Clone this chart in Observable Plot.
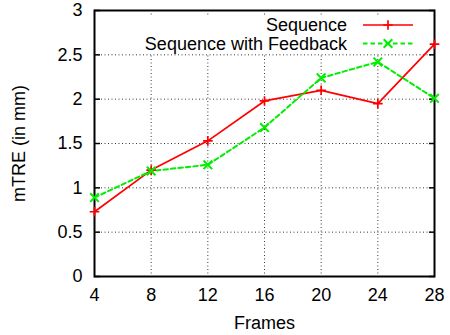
<!DOCTYPE html>
<html>
<head>
<meta charset="utf-8">
<script src="https://cdn.jsdelivr.net/npm/d3@7"></script>
<script src="https://cdn.jsdelivr.net/npm/@observablehq/plot@0.6"></script>
<style>
  body { margin: 0; background: #fff; }
  #chart { width: 450px; height: 335px; }
</style>
</head>
<body>
<div id="chart"></div>
<script>
// mTRE per number of frames, for the two registration variants
const frames = [4, 8, 12, 16, 20, 24, 28];
const sequence = [0.73, 1.2, 1.53, 1.98, 2.1, 1.95, 2.62];
const sequenceFeedback = [0.89, 1.19, 1.26, 1.68, 2.24, 2.42, 2.01];
const seriesNames = ["Sequence", "Sequence with Feedback"];
const xTicks = [4, 8, 12, 16, 20, 24, 28];
const yTicks = [0, 0.5, 1, 1.5, 2, 2.5, 3];

const RED = "#ff0000";
const GREEN = "#00ee00";
const FONT = "'Liberation Sans', Arial, Helvetica, sans-serif";
const FONT_SIZE = "18px";

const seqRows = frames.map((f, i) => ({frame: f, value: sequence[i], series: seriesNames[0]}));
const fbRows = frames.map((f, i) => ({frame: f, value: sequenceFeedback[i], series: seriesNames[1]}));

const gridStyle = {stroke: "#222", strokeOpacity: 0.9, strokeDasharray: "1,2.5", strokeWidth: 1};

const svg = Plot.plot({
  width: 450,
  height: 335,
  marginLeft: 94,
  marginRight: 16,
  marginTop: 10,
  marginBottom: 59,
  style: {fontFamily: FONT, fontSize: FONT_SIZE, color: "#000", background: "#fff", overflow: "visible"},
  x: {domain: [4, 28], ticks: xTicks},
  y: {domain: [0, 3], ticks: yTicks},
  marks: [
    Plot.gridX(xTicks, gridStyle),
    Plot.gridY(yTicks, gridStyle),
    Plot.axisY(yTicks, {anchor: "left", tickSize: 0, tickPadding: 12, tickFormat: d => String(d),
      label: "mTRE (in mm)", labelAnchor: "center", labelArrow: false, labelOffset: 82}),
    Plot.axisY(yTicks, {anchor: "left", tickSize: -6, tickFormat: () => "", label: null, strokeWidth: 1.5}),
    Plot.axisY(yTicks, {anchor: "right", tickSize: -6, tickFormat: () => "", label: null, strokeWidth: 1.5}),
    Plot.axisX(xTicks, {anchor: "bottom", tickSize: 0, tickPadding: 12, tickFormat: d => String(d),
      label: "Frames", labelAnchor: "center", labelArrow: false, labelOffset: 52}),
    Plot.frame({stroke: "#000", strokeWidth: 2}),
    Plot.line(seqRows, {x: "frame", y: "value", stroke: RED, strokeWidth: 1.7}),
    Plot.line(fbRows, {x: "frame", y: "value", stroke: GREEN, strokeWidth: 2, strokeDasharray: "4.5,3"}),
    Plot.dot(seqRows, {x: "frame", y: "value", symbol: "plus", r: 3.2, stroke: RED, strokeWidth: 1.7}),
    Plot.dot(fbRows, {x: "frame", y: "value", symbol: "times", r: 4, stroke: GREEN, strokeWidth: 2})
  ]
});

document.getElementById("chart").append(svg);

// Key in the upper right, on an opaque white panel
const key = d3.select(svg).append("g").attr("font-family", FONT).attr("font-size", FONT_SIZE);
key.append("rect").attr("x", 138).attr("y", 17).attr("width", 284).attr("height", 36).attr("fill", "#fff");
const keyItems = [
  {name: seriesNames[0], color: RED, dash: null, symbol: d3.symbolPlus, r: 3.2, width: 1.7, y: 25},
  {name: seriesNames[1], color: GREEN, dash: "4.5,3", symbol: d3.symbolTimes, r: 4, width: 2, y: 43.5}
];
for (const k of keyItems) {
  key.append("text").attr("x", 347).attr("y", k.y).attr("dy", "0.35em")
    .attr("text-anchor", "end").attr("fill", "#000").text(k.name);
  key.append("line").attr("x1", 363).attr("x2", 413).attr("y1", k.y).attr("y2", k.y)
    .attr("stroke", k.color).attr("stroke-width", k.width).attr("stroke-dasharray", k.dash);
  key.append("path").attr("transform", `translate(388,${k.y})`)
    .attr("d", d3.symbol(k.symbol, Math.PI * k.r * k.r)())
    .attr("fill", "none").attr("stroke", k.color).attr("stroke-width", k.width);
}
</script>
</body>
</html>
